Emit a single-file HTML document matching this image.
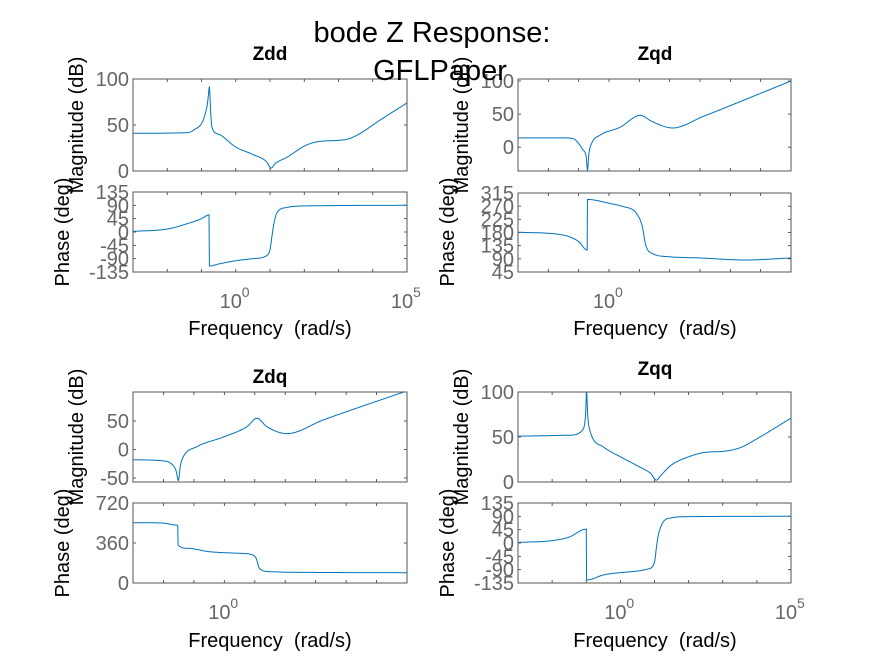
<!DOCTYPE html>
<html><head><meta charset="utf-8"><style>
html,body{margin:0;padding:0;background:#fff;}
svg{display:block;font-family:"Liberation Sans",sans-serif;}
</style></head><body>
<svg id="fig" width="875" height="656" viewBox="0 0 875 656">
<rect width="875" height="656" fill="#fff"/>
</svg>
<script>
// ---- data (log10 frequency, values) ----
const zddMagW = [-3,-1.5,-1.25,-0.84,-0.79,-0.77,-0.74,-0.7,-0.5,0,0.5,0.9,1.03,1.15,1.5,2,2.4,2.85,3.3,3.64,4.2,5];
const zddMag  = [41,41.5,44,70,85,92,70,48,40,26,18,10,3,8,15,27,32,33,35,41,55,74];
const zddPhW  = [-3,-2,-1.5,-1,-0.78,-0.77,-0.5,0,0.5,0.9,1.0,1.05,1.1,1.2,1.5,2,5];
const zddPh   = [2,10,25,45,58,-115,-108,-97,-90,-80,-60,-20,20,65,83,88,90];

const zqdMagW = [-3,-1.5,-1.19,-0.86,-0.75,-0.71,-0.67,-0.58,-0.3,0.36,1.03,1.45,2.1,3.08,6];
const zqdMag  = [14,14,13,-4,-15,-36,-12,5,18,30,48,38,29,46,100];
const zqdPhW  = [-3,-1.5,-1,-0.72,-0.71,0,0.5,0.8,0.9,1.1,1.2,1.4,2,3,4.5,6];
const zqdPh   = [181,171,149,120,293,280,268,257,246,200,140,110,97,93,86,93];

const zdqMagW = [-3,-2,-1.7,-1.58,-1.51,-1.45,-1.35,-0.9,-0.03,0.74,1.07,1.4,2.06,3.25,6];
const zdqMag  = [-18,-20,-27,-38,-55,-30,-13,5,22,40,55,40,28,52,103];
const zdqPhW  = [-3,-2,-1.6,-1.53,-1.52,-1.2,-0.5,0.5,0.9,1.05,1.15,1.5,3,6];
const zdqPh   = [543,539,522,515,342,312,282,267,255,220,132,102,95,93];

const zqqMagW = [-3,-1.5,-1.1,-1.02,-0.99,-0.96,-0.9,-0.5,0,0.5,0.9,1.05,1.2,1.5,2,2.5,3,3.5,4,5];
const zqqMag  = [51,52,58,75,102,75,58,39,28,18,9,2,8,19,28,33,34,38,48,71];
const zqqPhW  = [-3,-2,-1.5,-1.0,-0.99,-0.5,0,0.8,1.0,1.05,1.1,1.25,1.5,2,5];
const zqqPh   = [2,8,20,47,-125,-108,-100,-88,-65,-20,20,70,85,89,90];

// tick arrays
const magTicksA = [0,50,100];
const phTicksA = [-135,-90,-45,0,45,90,135];
const magTicksB = [0,50,100];
const phTicksB = [45,90,135,180,225,270,315];
const magTicksC = [-50,0,50];
const phTicksC = [0,360,720];

const NS = "http://www.w3.org/2000/svg";
const svg = document.getElementById('fig');
function el(tag, attrs, parent){const e=document.createElementNS(NS,tag);for(const k in attrs)e.setAttribute(k,attrs[k]);(parent||svg).appendChild(e);return e;}

function smooth(xs, ys){
  const n=xs.length, d=[], m=[];
  for(let i=0;i<n-1;i++) d.push((ys[i+1]-ys[i])/(xs[i+1]-xs[i]));
  m[0]=d[0]; m[n-1]=d[n-2];
  for(let i=1;i<n-1;i++) m[i]=(d[i-1]*d[i]<=0)?0:(d[i-1]+d[i])/2;
  for(let i=0;i<n-1;i++){ if(d[i]===0){m[i]=0;m[i+1]=0;continue;}
    const a=m[i]/d[i], b=m[i+1]/d[i], s=a*a+b*b; if(s>9){const t=3/Math.sqrt(s);m[i]=t*a*d[i];m[i+1]=t*b*d[i];} }
  const out=[];
  for(let i=0;i<n-1;i++){
    const h=xs[i+1]-xs[i], N=Math.max(2,Math.ceil(h*30));
    for(let k=0;k<N;k++){const t=k/N,t2=t*t,t3=t2*t;
      const y=(2*t3-3*t2+1)*ys[i]+(t3-2*t2+t)*h*m[i]+(-2*t3+3*t2)*ys[i+1]+(t3-t2)*h*m[i+1];
      out.push([xs[i]+t*h,y]);}
  }
  out.push([xs[n-1],ys[n-1]]);
  return out;
}

function drawAxes(name, x0, x1, y0, y1, wmin, wmax, vmin, vmax, yTicks, ws, vs, xLabels){
  const g = el('g',{});
  
  
  const sx = w => x0 + (w - wmin)/(wmax - wmin)*(x1 - x0);
  const sy = v => y1 - (v - vmin)/(vmax - vmin)*(y1 - y0);
  for(let d=Math.ceil(wmin); d<=wmax; d++){
    const x=sx(d);
    const t1=el('line',{x1:x,x2:x,y1:y0,y2:y0+3,stroke:'#333','stroke-width':0.8},g);
    
    
    const t2=el('line',{x1:x,x2:x,y1:y1,y2:y1-3,stroke:'#333','stroke-width':0.8},g);
    
    
  }
  yTicks.forEach(v=>{
    const y=sy(v);
    el('line',{x1:x0,x2:x0+3,y1:y,y2:y,stroke:'#333','stroke-width':0.8},g);
    el('line',{x1:x1,x2:x1-3,y1:y,y2:y,stroke:'#333','stroke-width':0.8},g);
    const t=el('text',{x:x0-4,y:y+7,'text-anchor':'end','font-size':20,fill:'#666'},g);
    t.textContent=v;
    
    
  });
  const cp = el('clipPath',{id:'c'+name},g);
  el('rect',{x:x0,y:y0,width:x1-x0,height:y1-y0},cp);
  const pts = smooth(ws,vs).map(p=>sx(p[0]).toFixed(1)+','+sy(p[1]).toFixed(1)).join(' ');
  const pl = el('polyline',{points:pts,fill:'none',stroke:'#0072BD','stroke-width':1,'clip-path':'url(#c'+name+')'},g);
  
  
  const box=el('rect',{x:x0,y:y0,width:x1-x0,height:y1-y0,fill:'none',stroke:'#555','stroke-width':1},g);
  
  
  if(xLabels){
    xLabels.forEach(d=>{
      const t=el('text',{x:sx(d)-5,y:y1+36,'text-anchor':'middle','font-size':20,fill:'#666'},g);
      t.textContent='10';
      
      
      const s=el('text',{x:sx(d)+6,y:y1+25,'font-size':14,fill:'#666'},g);
      s.textContent=d;
    });
  }
}

function labels(x0, cx, magMid, phMid, title, titleY, freqY){
  const t=el('text',{x:cx,y:titleY,'text-anchor':'middle','font-size':19,'font-weight':'bold',fill:'#000'});
  t.textContent=title;
  
  
  const m=el('text',{x:0,y:0,'text-anchor':'middle','font-size':20,fill:'#000',transform:`translate(${x0-50},${magMid}) rotate(-90)`});
  m.textContent='Magnitude (dB)';
  
  
  const p=el('text',{x:0,y:0,'text-anchor':'middle','font-size':20,fill:'#000',transform:`translate(${x0-64},${phMid}) rotate(-90)`});
  p.textContent='Phase (deg)';
  
  
  const f=el('text',{x:cx,y:freqY,'text-anchor':'middle','font-size':20,fill:'#000'});
  f.textContent='Frequency\u00A0\u00A0(rad/s)';
  
  
}

drawAxes('zdd-magnitude',133,407,79,171,-3,5,0,100,magTicksA,zddMagW,zddMag,null);
drawAxes('zdd-phase',133,407,192,272,-3,5,-135,135,phTicksA,zddPhW,zddPh,[0,5]);
labels(133,270,125,232,'Zdd',60,335);
drawAxes('zqd-magnitude',518,791,79,171,-3,6,-36,103,magTicksB,zqdMagW,zqdMag,null);
drawAxes('zqd-phase',518,791,193,272,-3,6,45,315,phTicksB,zqdPhW,zqdPh,[0]);
labels(518,655,125,232,'Zqd',60,335);
drawAxes('zdq-magnitude',133,407,392,482,-3,6,-57,101,magTicksC,zdqMagW,zdqMag,null);
drawAxes('zdq-phase',133,407,503,583,-3,6,0,720,phTicksC,zdqPhW,zdqPh,[0]);
labels(133,270,437,543,'Zdq',383,647);
drawAxes('zqq-magnitude',518,791,392,482,-3,5,0,100,magTicksA,zqqMagW,zqqMag,null);
drawAxes('zqq-phase',518,791,503,583,-3,5,-135,135,phTicksA,zqqPhW,zqqPh,[0,5]);
labels(518,655,437,543,'Zqq',375,647);

const st1=el('text',{x:432,y:42,'text-anchor':'middle','font-size':29,fill:'#000'});
st1.textContent='bode Z Response:';


const st2=el('text',{x:440,y:80,'text-anchor':'middle','font-size':29,fill:'#000'});
st2.textContent='GFLPaper';


</script>
</body></html>
